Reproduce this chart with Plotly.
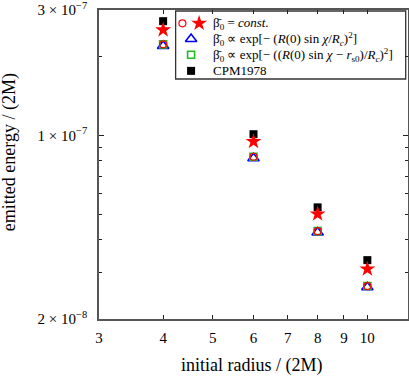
import plotly.graph_objects as go

# initial radius / (2M)
radius = [4, 6, 8, 10]

# emitted energy / (2M)
const_circle = [2.22e-7, 8.29e-8, 4.32e-8, 2.67e-8]
const_star = [2.52e-7, 9.47e-8, 5.02e-8, 3.10e-8]
gauss_triangle = [2.19e-7, 8.18e-8, 4.27e-8, 2.64e-8]
shifted_square = [2.22e-7, 8.29e-8, 4.32e-8, 2.67e-8]
cpm1978 = [2.72e-7, 1.01e-7, 5.32e-8, 3.35e-8]

x_ticks = [3, 4, 5, 6, 7, 8, 9, 10]
y_major = [2e-8, 1e-7, 3e-7]
y_major_text = ["2 × 10<sup>−8</sup>", "1 × 10<sup>−7</sup>", "3 × 10<sup>−7</sup>"]
y_minor = [3e-8, 4e-8, 5e-8, 6e-8, 7e-8, 8e-8, 9e-8, 2e-7]

legend_text = [
    "β̄<sub>0</sub> = <i>const.</i>",
    "β̄<sub>0</sub> ∝ exp[− (<i>R</i>(0) sin <i>χ</i>/<i>R<sub>c</sub></i>)<sup>2</sup>]",
    "β̄<sub>0</sub> ∝ exp[− ((<i>R</i>(0) sin <i>χ</i> − <i>r</i><sub>s0</sub>)/<i>R<sub>c</sub></i>)<sup>2</sup>]",
    "CPM1978",
]

FONT = "Liberation Serif"
RED, BLUE, GREEN, BLACK = "#ff0000", "#0000ff", "#22bb22", "#000000"

styles = {
    "circle": dict(symbol="circle-open", size=7, color=RED, line=dict(width=1.2, color=RED)),
    "star": dict(symbol="star", size=12, color=RED, line=dict(width=0)),
    "triangle": dict(symbol="triangle-up-open", size=10, color=BLUE, line=dict(width=1.6, color=BLUE)),
    "square": dict(symbol="square-open", size=7, color=GREEN, line=dict(width=1.6, color=GREEN)),
    "black": dict(symbol="square", size=8, color=BLACK, line=dict(width=0)),
}

fig = go.Figure()
for ys, key in [(gauss_triangle, "triangle"), (shifted_square, "square"),
                (const_circle, "circle"), (cpm1978, "black"), (const_star, "star")]:
    fig.add_trace(go.Scatter(x=radius, y=ys, mode="markers", marker=styles[key],
                             showlegend=False, hoverinfo="skip"))

# hand-made legend (circle + star share the first row)
rows_y = [0.957, 0.906, 0.855, 0.803]
legend_marks = [(0.270, rows_y[0], "circle"), (0.324, rows_y[0], "star"),
                (0.298, rows_y[1], "triangle"), (0.298, rows_y[2], "square"),
                (0.298, rows_y[3], "black")]
for lx, ly, key in legend_marks:
    fig.add_trace(go.Scatter(x=[lx], y=[ly], xaxis="x2", yaxis="y2", mode="markers",
                             marker=styles[key], showlegend=False, hoverinfo="skip"))

fig.add_shape(type="rect", xref="paper", yref="paper", x0=0.248, x1=0.9926,
              y0=0.7767, y1=0.9968, line=dict(color="#333333", width=1.3),
              fillcolor="white", layer="below")

for txt, ly in zip(legend_text, rows_y):
    fig.add_annotation(x=0.362, y=ly, xref="paper", yref="paper", text=txt,
                       showarrow=False, xanchor="left", yanchor="middle",
                       font=dict(family=FONT, size=13, color="black"))

fig.add_annotation(x=0.4926, y=-0.152, xref="paper", yref="paper",
                   text="initial radius / (2M)", showarrow=False,
                   xanchor="center", yanchor="middle",
                   font=dict(family=FONT, size=18, color="black"))
fig.add_annotation(x=-0.291, y=0.54, xref="paper", yref="paper", textangle=-90,
                   text="emitted energy / (2M)", showarrow=False,
                   xanchor="center", yanchor="middle",
                   font=dict(family=FONT, size=18, color="black"))

axis_line = dict(showline=True, linecolor="#555555", linewidth=1.5, mirror="allticks",
                 showgrid=False, zeroline=False, ticks="inside", tickcolor="#222222",
                 automargin=False, ticklabeloverflow="allow")

fig.update_layout(
    width=409, height=382,
    margin=dict(l=99, r=1, t=10, b=63, autoexpand=False),
    paper_bgcolor="white", plot_bgcolor="white",
    font=dict(family=FONT, size=15, color="black"),
    xaxis=dict(type="log", range=[0.47711, 1.07918], tickvals=x_ticks,
               ticktext=[str(v) for v in x_ticks], ticklen=4, tickwidth=1,
               ticklabelstandoff=4, **axis_line),
    yaxis=dict(type="log", range=[-7.69898, -6.52287], tickvals=y_major,
               ticktext=y_major_text, ticklen=5, tickwidth=1, ticklabelstandoff=7,
               minor=dict(tickvals=y_minor, ticks="inside", ticklen=3,
                          tickcolor="#222222", showgrid=False),
               **axis_line),
    xaxis2=dict(overlaying="x", range=[0, 1], visible=False, fixedrange=True),
    yaxis2=dict(overlaying="y", range=[0, 1], visible=False, fixedrange=True),
)

fig.write_html("out.html", config={"displayModeBar": False},
               post_script="document.body.style.margin='0';")
